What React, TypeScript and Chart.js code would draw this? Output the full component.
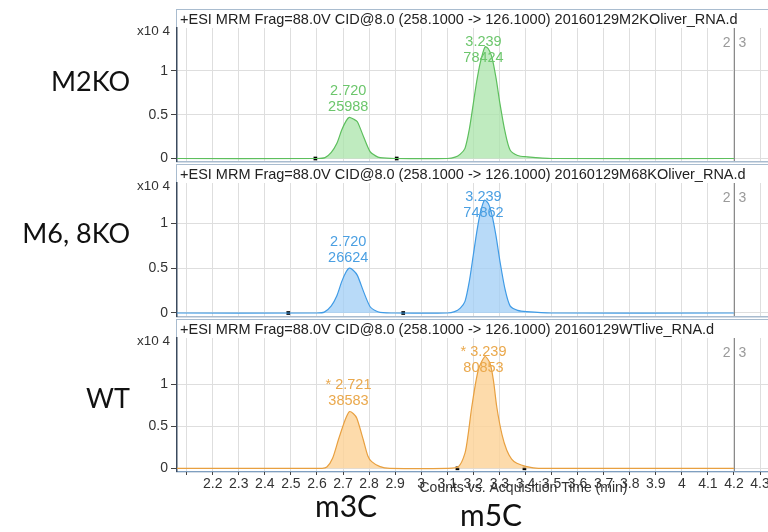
import React, { useEffect, useRef } from 'react';
import { Chart, registerables } from 'chart.js';

Chart.register(...registerables);

// ---------- data ----------
const TITLE_PREFIX = '+ESI MRM Frag=88.0V CID@8.0 (258.1000 -> 126.1000) ';
const SAMPLE_LABELS = ['M2KO', 'M6, 8KO', 'WT'];
const FILE_NAMES = ['20160129M2KOliver_RNA.d', '20160129M68KOliver_RNA.d', '20160129WTlive_RNA.d'];
const COMPOUNDS = ['m3C', 'm5C'];
const X_AXIS_TITLE = 'Counts vs. Acquisition Time (min)';
const Y_MULTIPLIER = 'x10 4';
const PANE_TAGS = ['2', '3'];

const X_TICKS = [2.1, 2.2, 2.3, 2.4, 2.5, 2.6, 2.7, 2.8, 2.9, 3.0, 3.1, 3.2, 3.3, 3.4, 3.5, 3.6, 3.7, 3.8, 3.9, 4.0, 4.1, 4.2, 4.3, 4.4, 4.5, 4.6, 4.7];
const X_UNLABELED = [2.1];
const Y_TICKS = [0, 5000, 10000];

const M2KO_TIME = [2.0, 2.6, 2.631, 2.655, 2.676, 2.695, 2.712, 2.724, 2.74, 2.755, 2.78, 2.804, 2.825, 2.842, 2.9, 3.1, 3.13, 3.15, 3.168, 3.185, 3.2, 3.213, 3.226, 3.245, 3.258, 3.271, 3.287, 3.302, 3.322, 3.341, 3.37, 3.405, 3.5, 4.2];
const M2KO_COUNTS = [0, 0, 100, 700, 1700, 3250, 4300, 4700, 4500, 4200, 2400, 780, 300, 100, 0, 0, 150, 500, 1160, 3400, 6300, 8800, 10870, 12760, 12500, 11600, 9200, 6300, 3000, 970, 350, 200, 0, 0];
const M2KO_PEAK_RT = ['2.720', '3.239'];
const M2KO_PEAK_AREA = ['25988', '78424'];
const M2KO_MARKS = [2.594, 2.906];

const M68KO_TIME = [2.0, 2.6, 2.628, 2.655, 2.676, 2.695, 2.712, 2.724, 2.74, 2.755, 2.78, 2.804, 2.825, 2.842, 2.9, 3.1, 3.128, 3.15, 3.168, 3.185, 3.2, 3.213, 3.226, 3.243, 3.258, 3.271, 3.287, 3.302, 3.322, 3.341, 3.37, 3.405, 3.5, 4.2];
const M68KO_COUNTS = [0, 0, 100, 800, 1900, 3500, 4600, 5000, 4750, 4200, 2300, 700, 250, 80, 0, 0, 150, 550, 1300, 3600, 6500, 9000, 11100, 12600, 12200, 11000, 8600, 5800, 2600, 800, 300, 150, 0, 0];
const M68KO_PEAK_RT = ['2.720', '3.239'];
const M68KO_PEAK_AREA = ['26624', '74862'];
const M68KO_MARKS = [2.49, 2.931];

const WT_TIME = [2.0, 2.62, 2.638, 2.66, 2.682, 2.708, 2.724, 2.74, 2.753, 2.778, 2.795, 2.81, 2.842, 2.88, 3.1, 3.143, 3.168, 3.18, 3.194, 3.219, 3.245, 3.264, 3.277, 3.29, 3.31, 3.328, 3.347, 3.367, 3.405, 3.45, 4.2];
const WT_COUNTS = [0, 0, 150, 1200, 3370, 5750, 6740, 6500, 5950, 3370, 1500, 790, 200, 0, 0, 200, 1800, 4000, 7300, 11700, 13300, 12500, 10500, 7300, 4000, 2180, 1100, 600, 200, 0, 0];
const WT_PEAK_RT = ['* 2.721', '* 3.239'];
const WT_PEAK_AREA = ['38583', '80853'];
const WT_MARKS = [3.139, 3.396];

// ---------- panel setup ----------
const FONT = '"Liberation Sans", Arial, sans-serif';
const CANVAS_W = 880;
const CANVAS_H = 532;
const X_MIN = 2.063;
const X_MAX = 4.722;

type PanelDef = {
  time: number[];
  counts: number[];
  rt: string[];
  area: string[];
  marks: number[];
  file: string;
  line: string;
  fill: string;
  text: string;
  top: number;
  bottom: number;
  frameTop: number;
  yMin: number;
  yMax: number;
  showX: boolean;
};

const PANELS: PanelDef[] = [
  { time: M2KO_TIME, counts: M2KO_COUNTS, rt: M2KO_PEAK_RT, area: M2KO_PEAK_AREA, marks: M2KO_MARKS, file: FILE_NAMES[0],
    line: '#5dbf5d', fill: 'rgba(170, 228, 170, 0.75)', text: '#6cc66c', top: 28, bottom: 161, frameTop: 9, yMin: -285, yMax: 14900, showX: false },
  { time: M68KO_TIME, counts: M68KO_COUNTS, rt: M68KO_PEAK_RT, area: M68KO_PEAK_AREA, marks: M68KO_MARKS, file: FILE_NAMES[1],
    line: '#3f9be6', fill: 'rgba(160, 205, 245, 0.75)', text: '#4a9fe2', top: 183, bottom: 316, frameTop: 164, yMin: -335, yMax: 14510, showX: false },
  { time: WT_TIME, counts: WT_COUNTS, rt: WT_PEAK_RT, area: WT_PEAK_AREA, marks: WT_MARKS, file: FILE_NAMES[2],
    line: '#e8a040', fill: 'rgba(252, 210, 150, 0.8)', text: '#eaa84c', top: 338, bottom: 471, frameTop: 319, yMin: -321, yMax: 15512, showX: true },
];

function makeDecor(p: PanelDef) {
  return {
    id: 'panelDecor',
    beforeDraw(chart: any) {
      const { ctx, chartArea } = chart;
      ctx.save();
      ctx.strokeStyle = '#a9bccf';
      ctx.lineWidth = 1;
      ctx.strokeRect(176.5, p.frameTop + 0.5, chart.width, chartArea.bottom - p.frameTop + 0.5);
      ctx.restore();
    },
    afterDatasetsDraw(chart: any) {
      const { ctx, chartArea } = chart;
      const xs = chart.scales.x;
      const ys = chart.scales.y;
      ctx.save();
      // end-of-data line with pane tags
      const endX = Math.round(xs.getPixelForValue(p.time[p.time.length - 1])) + 0.5;
      ctx.strokeStyle = '#8a8a8a';
      ctx.lineWidth = 1;
      ctx.beginPath();
      ctx.moveTo(endX, chartArea.top);
      ctx.lineTo(endX, chartArea.bottom);
      ctx.stroke();
      ctx.font = '14px ' + FONT;
      ctx.fillStyle = '#9a9a9a';
      ctx.textBaseline = 'middle';
      ctx.textAlign = 'right';
      ctx.fillText(PANE_TAGS[0], endX - 4, chartArea.top + 15);
      ctx.textAlign = 'left';
      ctx.fillText(PANE_TAGS[1], endX + 4, chartArea.top + 15);

      // title
      ctx.fillStyle = '#222222';
      ctx.font = '14.5px ' + FONT;
      ctx.textAlign = 'left';
      ctx.fillText(TITLE_PREFIX + p.file, 180, chartArea.top - 8);

      // multiplier
      ctx.font = '13.5px ' + FONT;
      ctx.textAlign = 'right';
      ctx.fillStyle = '#333333';
      ctx.fillText(Y_MULTIPLIER, 170, chartArea.top + 3.5);

      // peak labels
      ctx.font = '14.5px ' + FONT;
      ctx.textAlign = 'center';
      ctx.fillStyle = p.text;
      p.rt.forEach((label, i) => {
        const rt = parseFloat(label.replace('*', '').trim());
        let apex = 0;
        p.time.forEach((t, j) => {
          if (Math.abs(t - rt) <= 0.06) apex = Math.max(apex, p.counts[j]);
        });
        const px = xs.getPixelForValue(rt);
        const apexY = ys.getPixelForValue(apex);
        const rtY = Math.max(apexY - 26.5, chartArea.top + 13.7);
        ctx.fillText(label, px, rtY);
        ctx.fillText(p.area[i], px, rtY + 16.3);
      });
      ctx.restore();
    },
  };
}

function Panel({ idx }: { idx: number }) {
  const ref = useRef<HTMLCanvasElement>(null);
  useEffect(() => {
    const p = PANELS[idx];
    const chart = new Chart(ref.current as HTMLCanvasElement, {
      type: 'line',
      data: {
        datasets: [
          {
            data: p.time.map((t, i) => ({ x: t, y: p.counts[i] })),
            borderColor: p.line,
            backgroundColor: p.fill,
            borderWidth: 1.2,
            fill: 'origin',
            pointRadius: 0,
            tension: 0.25,
          } as any,
          {
            type: 'scatter',
            data: p.marks.map((t) => ({ x: t, y: 0 })),
            pointStyle: 'rect',
            pointRadius: 2.6,
            backgroundColor: '#000000',
            borderColor: '#000000',
            borderWidth: 0,
            showLine: false,
          } as any,
        ],
      },
      options: {
        animation: false,
        responsive: false,
        maintainAspectRatio: false,
        devicePixelRatio: 1,
        events: [],
        layout: {
          padding: { left: 0, right: CANVAS_W - 870, top: p.top, bottom: p.showX ? 0 : CANVAS_H - p.bottom },
        },
        plugins: {
          legend: { display: false },
          tooltip: { enabled: false },
          title: { display: false },
        },
        scales: {
          x: {
            type: 'linear',
            min: X_MIN,
            max: X_MAX,
            afterBuildTicks: (s: any) => {
              s.ticks = X_TICKS.map((value) => ({ value }));
            },
            afterFit: (s: any) => {
              s.height = p.showX ? CANVAS_H - p.bottom : 0;
            },
            grid: {
              color: '#dedede',
              tickColor: '#444444',
              lineWidth: 1,
              drawTicks: p.showX,
              tickLength: 4,
            },
            border: { display: true, color: p.showX ? '#7f9fc0' : '#a9bccf', width: 1 },
            ticks: {
              display: p.showX,
              autoSkip: false,
              maxRotation: 0,
              minRotation: 0,
              padding: 1,
              color: '#333333',
              font: { family: FONT, size: 14 },
              callback: (v: any) => {
                const r = Math.round(Number(v) * 10) / 10;
                return X_UNLABELED.includes(r) ? '' : String(r);
              },
            },
            title: {
              display: p.showX,
              text: X_AXIS_TITLE,
              color: '#333333',
              font: { family: FONT, size: 14 },
              padding: { top: 0, bottom: 35 },
            },
          },
          y: {
            type: 'linear',
            min: p.yMin,
            max: p.yMax,
            afterBuildTicks: (s: any) => {
              s.ticks = Y_TICKS.map((value) => ({ value }));
            },
            afterFit: (s: any) => {
              s.width = 177;
            },
            grid: {
              color: '#dedede',
              tickColor: '#444444',
              lineWidth: 1,
              drawTicks: true,
              tickLength: 6,
            },
            border: { display: true, color: '#3b4a5e', width: 1.5 },
            ticks: {
              padding: 3,
              color: '#333333',
              font: { family: FONT, size: 14 },
              callback: (v: any) => String(Math.round(Number(v) / 1000) / 10),
            },
          },
        },
      },
      plugins: [makeDecor(p)],
    } as any);
    return () => chart.destroy();
  }, [idx]);
  return (
    <canvas
      ref={ref}
      width={CANVAS_W}
      height={CANVAS_H}
      style={{ position: 'absolute', left: 0, top: 0, width: CANVAS_W, height: CANVAS_H }}
    />
  );
}

const bigText: React.CSSProperties = {
  position: 'absolute',
  fontFamily: 'Lato, "Noto Sans", sans-serif',
  fontSize: 27,
  lineHeight: '27px',
  color: '#111111',
  whiteSpace: 'nowrap',
};

export default function App() {
  const sampleY = [67, 219, 384];
  return (
    <div
      style={{
        position: 'absolute',
        left: 0,
        top: 0,
        width: 768,
        height: 532,
        overflow: 'hidden',
        background: '#ffffff',
      }}
    >
      {PANELS.map((_, i) => (
        <Panel key={i} idx={i} />
      ))}
      {SAMPLE_LABELS.map((s, i) => (
        <div key={s} style={{ ...bigText, right: 768 - 130, top: sampleY[i], textAlign: 'right' }}>
          {s}
        </div>
      ))}
      <div style={{ ...bigText, fontSize: 30, lineHeight: '30px', left: 315, top: 490 }}>{COMPOUNDS[0]}</div>
      <div style={{ ...bigText, fontSize: 30, lineHeight: '30px', left: 460, top: 499 }}>{COMPOUNDS[1]}</div>
    </div>
  );
}
